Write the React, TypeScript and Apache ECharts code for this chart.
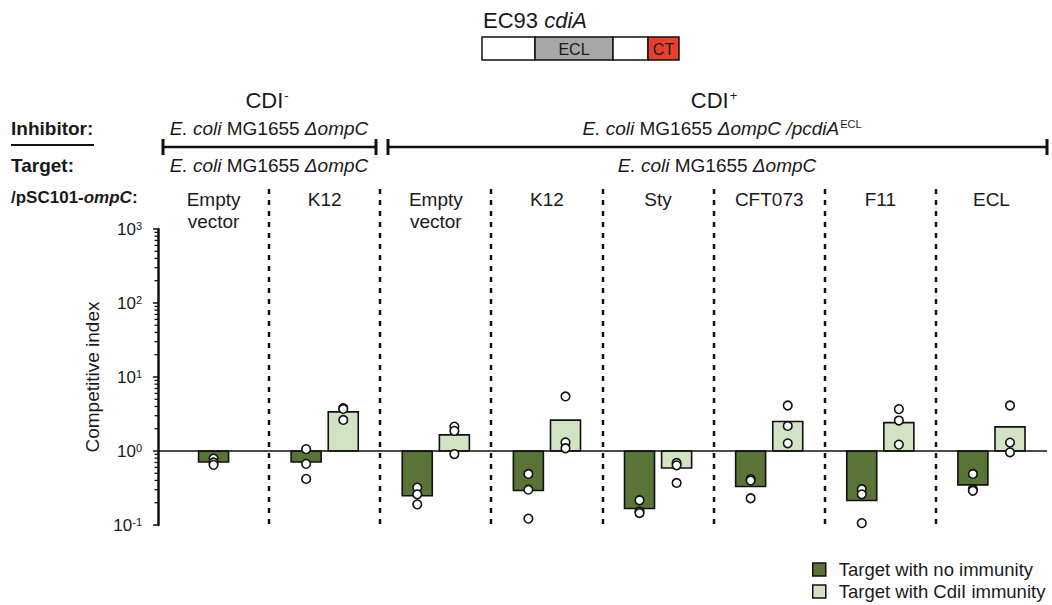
import React, { useEffect, useRef } from "react";
import * as echarts from "echarts";

// ---------- data ----------
const categories = ["Empty\nvector", "K12", "Empty\nvector", "K12", "Sty", "CFT073", "F11", "ECL"];
const noImmunity = [0.71, 0.71, 0.248, 0.293, 0.167, 0.332, 0.214, 0.349];
const withImmunity: (number | null)[] = [null, 3.38, 1.65, 2.61, 0.588, 2.5, 2.42, 2.12];
const noImmunityDots = [
  [0.79, 0.7, 0.65],
  [1.06, 0.67, 0.42],
  [0.32, 0.26, 0.19],
  [0.49, 0.3, 0.122],
  [0.216, 0.152, 0.145],
  [0.417, 0.4, 0.23],
  [0.305, 0.26, 0.106],
  [0.49, 0.305, 0.29],
];
const withImmunityDots = [
  [],
  [3.8, 3.7, 2.63],
  [2.14, 1.87, 0.91],
  [5.46, 1.31, 1.09],
  [0.69, 0.64, 0.37],
  [4.12, 2.18, 1.27],
  [3.68, 2.58, 1.22],
  [4.12, 1.3, 0.96],
];
const baselineValue = 1;
const yMin = 0.1;
const yMax = 1000;
const minorTickValues = [
  0.2, 0.3, 0.4, 0.5, 0.6, 0.7, 0.8, 0.9,
  2, 3, 4, 5, 6, 7, 8, 9,
  20, 30, 40, 50, 60, 70, 80, 90,
  200, 300, 400, 500, 600, 700, 800, 900,
];
const separatorAfter = [0, 1, 2, 3, 4, 5, 6];
const seriesNames = ["Target with no immunity", "Target with CdiI immunity"];

// ---------- style ----------
const FONT = '"Liberation Sans", Arial, Helvetica, sans-serif';
const INK = "#1a1a1a";
const DARK = "#5a7337";
const LIGHT = "#d2e3c3";
const BAR_OFFSET = 0.167; // fraction of band
const BAR_WIDTH = 0.27; // fraction of band
const FS = 19;

function barCenter(api: any, i: number, kind: number) {
  const band = api.size([1, 1])[0];
  const c = api.coord([i, baselineValue])[0];
  if (withImmunity[i] == null) return c;
  return c + (kind === 0 ? -1 : 1) * BAR_OFFSET * band;
}

function makeBarRender(kind: number, fill: string) {
  return (params: any, api: any) => {
    const i = api.value(0);
    const v = api.value(1);
    const band = api.size([1, 1])[0];
    const top = api.coord([i, v])[1];
    const base = api.coord([i, baselineValue])[1];
    const cx = barCenter(api, i, kind);
    const w = band * BAR_WIDTH;
    return {
      type: "rect",
      shape: { x: cx - w / 2, y: Math.min(top, base), width: w, height: Math.abs(top - base) },
      style: { fill, stroke: "#111", lineWidth: 1.6 },
    };
  };
}

const sup = { fontSize: 12, verticalAlign: "top", fontFamily: FONT, fill: INK, padding: [0, 0, 0, 1] };

function txt(x: number, y: number, text: string, size: number, align: string, rich: any = {}, bold = false) {
  return {
    type: "text",
    x,
    y,
    silent: true,
    style: {
      text,
      fontSize: size,
      fontFamily: FONT,
      fontWeight: bold ? "bold" : "normal",
      fill: INK,
      align,
      verticalAlign: "middle",
      rich,
    },
  };
}

function line(x1: number, y1: number, x2: number, y2: number, w: number) {
  return { type: "line", silent: true, shape: { x1, y1, x2, y2 }, style: { stroke: "#111", lineWidth: w } };
}

function rect(x: number, y: number, w: number, h: number, fill: string) {
  return { type: "rect", silent: true, shape: { x, y, width: w, height: h }, style: { fill, stroke: "#111", lineWidth: 1.5 } };
}

export default function App() {
  const ref = useRef<HTMLDivElement>(null);

  useEffect(() => {
    if (!ref.current) return;
    const chart = echarts.init(ref.current, undefined, { renderer: "svg" });

    const italic = { fontStyle: "italic", fontSize: FS, fontFamily: FONT, fill: INK };
    const nrm = { fontSize: FS, fontFamily: FONT, fill: INK };
    const bigN = { fontSize: 22, fontFamily: FONT, fill: INK };
    const supS = { ...sup, fontSize: 13 };
    const supE = { ...sup, fontSize: 11, fontStyle: "normal" };
    const bold = { fontWeight: "bold", fontSize: 17, fontFamily: FONT, fill: INK };
    const boldIt = { fontWeight: "bold", fontStyle: "italic", fontSize: 17, fontFamily: FONT, fill: INK };

    const dotData: number[][] = [];
    noImmunityDots.forEach((arr, i) => arr.forEach((v) => dotData.push([i, v, 0])));
    withImmunityDots.forEach((arr, i) => arr.forEach((v) => dotData.push([i, v, 1])));

    const graphic: any[] = [
      // schematic
      txt(483, 20, "{n|EC93 }{i|cdiA}", 22, "left", {
        n: { fontSize: 22, fontFamily: FONT, fill: INK },
        i: { fontSize: 22, fontFamily: FONT, fill: INK, fontStyle: "italic" },
      }),
      rect(482, 37, 53, 23, "#ffffff"),
      rect(535, 37, 78, 23, "#a7a7a9"),
      rect(613, 37, 35, 23, "#ffffff"),
      rect(648, 37, 31, 23, "#e8402e"),
      txt(574, 49, "ECL", 16, "center"),
      txt(663.5, 49, "CT", 16, "center"),
      // titles
      txt(267, 100, "{n|CDI}{s|-}", 22, "center", { n: bigN, s: supS }),
      txt(714, 100, "{n|CDI}{s|+}", 22, "center", { n: bigN, s: supS }),
      // inhibitor
      txt(269, 128, "{i|E. coli}{n| MG1655 }{i|ΔompC}", FS, "center", { i: italic, n: nrm }),
      txt(722, 128, "{i|E. coli}{n| MG1655 }{i|ΔompC /pcdiA}{s|ECL}", FS, "center", { i: italic, n: nrm, s: supE }),
      // target
      txt(269, 165, "{i|E. coli}{n| MG1655 }{i|ΔompC}", FS, "center", { i: italic, n: nrm }),
      txt(717, 165, "{i|E. coli}{n| MG1655 }{i|ΔompC}", FS, "center", { i: italic, n: nrm }),
      // row labels
      txt(11, 128, "Inhibitor:", FS, "left", {}, true),
      line(11, 145, 94, 145, 2),
      txt(11, 165, "Target:", FS, "left", {}, true),
      txt(11, 197, "{b|/pSC101-}{bi|ompC}{b|:}", 17, "left", { b: bold, bi: boldIt }),
      // brackets
      line(162, 147, 377, 147, 2.5),
      line(163, 139, 163, 155, 3),
      line(376, 139, 376, 155, 3),
      line(387, 147, 1048, 147, 2.5),
      line(388, 139, 388, 155, 3),
      line(1047, 139, 1047, 155, 3),
    ];

    const option: any = {
      animation: false,
      backgroundColor: "#ffffff",
      textStyle: { fontFamily: FONT },
      grid: { left: 158, right: 5, top: 229, bottom: 80, outerBoundsMode: "none" },
      legend: {
        orient: "vertical",
        left: 812,
        top: 560,
        itemWidth: 13,
        itemHeight: 13,
        itemGap: 3,
        padding: 0,
        icon: "rect",
        data: seriesNames,
        itemStyle: { borderColor: "#111", borderWidth: 1.5 },
        textStyle: { fontSize: 18.5, color: INK, padding: [0, 0, 0, 8], lineHeight: 19 },
      },
      xAxis: {
        type: "category",
        data: categories,
        position: "top",
        axisLine: { show: false },
        axisTick: { show: false },
        splitLine: { show: false },
        axisLabel: { interval: 0, margin: 41, verticalAlign: "top", lineHeight: 22, fontSize: FS, color: INK },
      },
      yAxis: {
        type: "log",
        logBase: 10,
        min: yMin,
        max: yMax,
        name: "Competitive index",
        nameLocation: "middle",
        nameGap: 50,
        nameTextStyle: { fontSize: FS, color: INK },
        axisLine: { show: true, lineStyle: { color: "#111", width: 2.5 } },
        axisTick: { show: true, length: 5, lineStyle: { color: "#111", width: 1.5 } },
        splitLine: { show: false },
        axisLabel: {
          margin: 16,
          formatter: (v: number) => `{b|10}{s|${Math.round(Math.log10(v))}}`,
          rich: {
            b: { fontSize: 17, color: INK, fontFamily: FONT },
            s: { fontSize: 11, color: INK, fontFamily: FONT, verticalAlign: "top" },
          },
        },
      },
      graphic,
      series: [
        {
          type: "custom",
          name: "separators",
          silent: true,
          encode: { x: 0, y: 1 },
          data: separatorAfter.map((k) => [k, baselineValue]),
          renderItem: (params: any, api: any) => {
            const cs = params.coordSys;
            const band = api.size([1, 1])[0];
            const x = Math.round(api.coord([api.value(0), baselineValue])[0] + band / 2);
            return {
              type: "line",
              shape: { x1: x, y1: cs.y - 40, x2: x, y2: cs.y + cs.height + 2 },
              style: { stroke: "#111", lineWidth: 2.5, lineDash: [5, 6] },
            };
          },
        },
        {
          type: "custom",
          name: "minorTicks",
          silent: true,
          encode: { x: 0, y: 1 },
          data: minorTickValues.map((v) => [0, v]),
          renderItem: (params: any, api: any) => {
            const cs = params.coordSys;
            const y = api.coord([0, api.value(1)])[1];
            return { type: "line", shape: { x1: cs.x - 3.5, y1: y, x2: cs.x, y2: y }, style: { stroke: "#111", lineWidth: 1.3 } };
          },
        },
        {
          type: "custom",
          name: seriesNames[0],
          encode: { x: 0, y: 1 },
          itemStyle: { color: DARK, borderColor: "#111", borderWidth: 1.5 },
          data: noImmunity.map((v, i) => [i, v]),
          renderItem: makeBarRender(0, DARK),
          z: 3,
        },
        {
          type: "custom",
          name: seriesNames[1],
          encode: { x: 0, y: 1 },
          itemStyle: { color: LIGHT, borderColor: "#111", borderWidth: 1.5 },
          data: withImmunity.map((v, i) => [i, v]).filter((d) => d[1] != null),
          renderItem: makeBarRender(1, LIGHT),
          z: 3,
        },
        {
          type: "custom",
          name: "baseline",
          silent: true,
          encode: { x: 0, y: 1 },
          data: [[0, baselineValue]],
          renderItem: (params: any, api: any) => {
            const cs = params.coordSys;
            const y = api.coord([0, baselineValue])[1];
            return { type: "line", shape: { x1: cs.x, y1: y, x2: cs.x + cs.width, y2: y }, style: { stroke: "#111", lineWidth: 1.6 } };
          },
          z: 4,
        },
        {
          type: "custom",
          name: "points",
          silent: true,
          encode: { x: 0, y: 1 },
          data: dotData,
          renderItem: (params: any, api: any) => {
            const i = api.value(0);
            const y = api.coord([i, api.value(1)])[1];
            const cx = barCenter(api, i, api.value(2));
            return { type: "circle", shape: { cx, cy: y, r: 4.3 }, style: { fill: "#ffffff", stroke: "#111", lineWidth: 1.6 } };
          },
          z: 5,
        },
      ],
    };

    chart.setOption(option);
    return () => chart.dispose();
  }, []);

  return (
    <div
      ref={ref}
      style={{ position: "fixed", left: 0, top: 0, width: 1052, height: 605, background: "#fff" }}
    />
  );
}
